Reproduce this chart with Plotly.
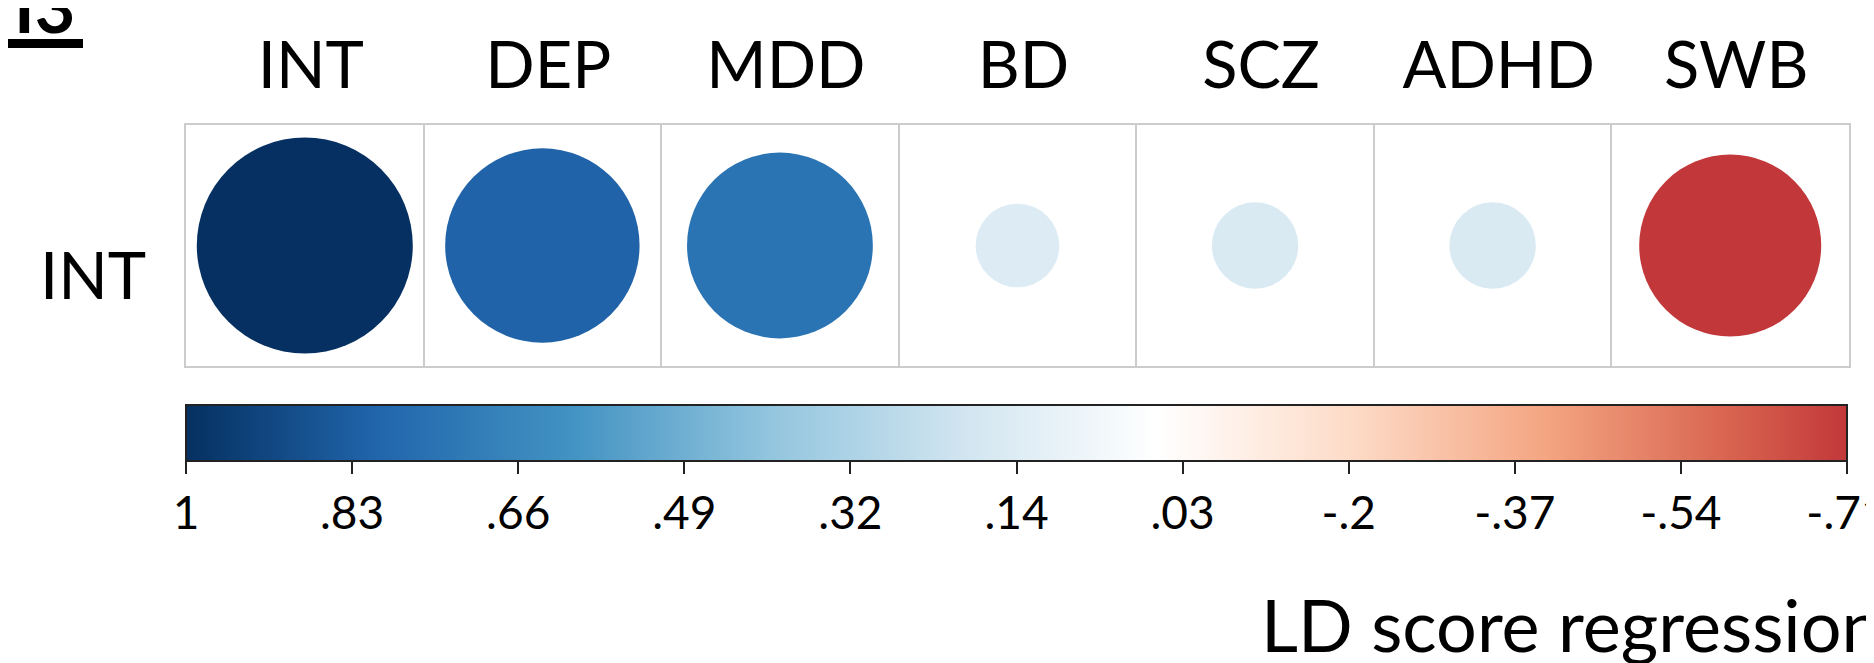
import plotly.graph_objects as go

# ---- data ----
columns = ["INT", "DEP", "MDD", "BD", "SCZ", "ADHD", "SWB"]
row_label = "INT"
rg_values = [1.0, 0.81, 0.74, 0.15, 0.16, 0.16, -0.71]
cbar_labels = ["1", ".83", ".66", ".49", ".32", ".14", ".03", "-.2", "-.37", "-.54", "-.71"]
cbar_max = 1.0
cbar_min = -0.71
axis_title = "LD score regression"
panel_label = "I3"

# ---- styling ----
W, H = 1874, 663
OFF = 8  # page body margin offset
FONT = "Lato, 'Open Sans', sans-serif"
GRID = "#cccccc"
MAX_D = 216  # px diameter for |r| = 1


def px(x):
    return (x - OFF) / W


def py(y):
    return 1 - (y - OFF) / H


# corrplot RdBu palette (r from +1 to -1)
pal_r = [1.0, 0.8, 0.6, 0.4, 0.2, 0.0, -0.2, -0.4, -0.6, -0.8, -1.0]
pal_c = ["#053061", "#2166AC", "#4393C3", "#92C5DE", "#D1E5F0", "#FFFFFF",
         "#FDDBC7", "#F4A582", "#D6604D", "#B2182B", "#67001F"]


def hex2rgb(h):
    h = h.lstrip("#")
    return tuple(int(h[i:i + 2], 16) for i in (0, 2, 4))


def color_at(r):
    for i in range(len(pal_r) - 1):
        a, b = pal_r[i], pal_r[i + 1]
        if b <= r <= a:
            f = (a - r) / (a - b)
            ca, cb = hex2rgb(pal_c[i]), hex2rgb(pal_c[i + 1])
            return "rgb(%d,%d,%d)" % tuple(round(ca[k] + f * (cb[k] - ca[k])) for k in range(3))
    return pal_c[-1]


span = cbar_max - cbar_min
colorscale = []
for r, c in zip(pal_r, pal_c):
    if cbar_min <= r <= cbar_max:
        colorscale.append([(cbar_max - r) / span, c])
colorscale.append([1.0, color_at(cbar_min)])

# colour variable runs left->right on the bar: c = -r
cvals = [-v for v in rg_values]
n_t = len(cbar_labels)
tick_c = [round(-cbar_max + k * span / (n_t - 1), 6) for k in range(n_t)]
tick_c[-1] = -cbar_min - 1e-9

xs = list(range(len(columns)))
sizes = [MAX_D * abs(v) ** 0.5 for v in rg_values]

fig = go.Figure()
fig.add_trace(go.Scatter(
    x=xs, y=[0] * len(xs), mode="markers",
    marker=dict(
        size=sizes, color=cvals, colorscale=colorscale, cmin=-cbar_max, cmax=-cbar_min,
        line=dict(width=0), opacity=1,
        showscale=True,
        colorbar=dict(
            orientation="h", lenmode="pixels", len=1661, thickness=56,
            x=px((186 + 1847) / 2), xanchor="center",
            y=py(405), yanchor="top", xpad=0, ypad=0,
            outlinecolor="#222222", outlinewidth=2,
            tickmode="array", tickvals=tick_c, ticktext=cbar_labels,
            ticks="outside", ticklen=12, tickwidth=2, tickcolor="#222222",
            ticklabeloverflow="allow",
            tickfont=dict(family=FONT, size=46, color="black"),
        ),
    ),
    hoverinfo="skip", showlegend=False,
))

fig.update_layout(
    width=W, height=H,
    margin=dict(l=0, r=0, t=0, b=0, autoexpand=False),
    paper_bgcolor="white", plot_bgcolor="white",
    font=dict(family=FONT, color="black"),
    xaxis=dict(
        domain=[px(186), px(1849)], range=[-0.5, len(columns) - 0.5],
        tickmode="array", tickvals=xs, ticktext=columns, side="top",
        tickfont=dict(size=65), ticks="", ticklabelstandoff=9, ticklabelshift=6,
        showgrid=False, zeroline=False,
        showline=True, mirror=True, linecolor=GRID, linewidth=2,
        minor=dict(tickmode="array", tickvals=[i + 0.5 for i in xs[:-1]],
                   showgrid=True, gridcolor=GRID, gridwidth=2, ticks=""),
        fixedrange=True,
    ),
    yaxis=dict(
        domain=[py(366), py(125)], range=[-0.5, 0.5],
        showticklabels=False, showgrid=False, zeroline=False,
        showline=True, mirror=True, linecolor=GRID, linewidth=2, fixedrange=True,
    ),
    annotations=[
        dict(text=row_label, xref="paper", yref="paper", x=px(148), y=py(273.5),
             xanchor="right", yanchor="middle", showarrow=False,
             font=dict(size=65, family=FONT, color="black")),
        dict(text=axis_title, xref="paper", yref="paper", x=px(1259), y=py(579),
             xanchor="left", yanchor="top", showarrow=False,
             font=dict(size=72, family=FONT, color="black")),
        dict(text="<b>%s</b>" % panel_label, xref="paper", yref="paper", x=px(12), y=py(50),
             xanchor="left", yanchor="bottom", showarrow=False,
             font=dict(size=70, family=FONT, color="black")),
    ],
    shapes=[
        dict(type="rect", xref="paper", yref="paper", x0=px(0), x1=px(83),
             y0=py(48), y1=py(39), fillcolor="black", line=dict(width=0)),
    ],
)

fig.write_html("out.html")
